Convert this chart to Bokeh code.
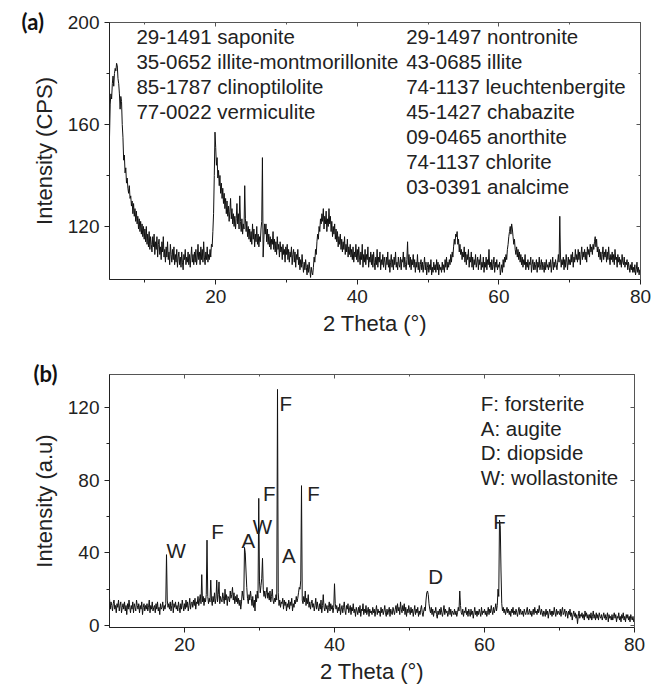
from bokeh.plotting import figure
from bokeh.layouts import column
from bokeh.models import FixedTicker, LinearAxis, Range1d, CustomJSTickFormatter, ColumnDataSource, Title
from bokeh.core.properties import value
from bokeh.embed import file_html
from bokeh.resources import INLINE

FONT = "Liberation Sans"

# ---------------- panel (a) data: 2-theta from 5.0, step 0.1 (one row per degree) ----------------
a_start, a_step = 5.0, 0.1
a_intensity = [
    155, 168, 172, 170, 176, 179, 175, 180, 182, 181,   # 5
    184, 183, 178, 176, 172, 166, 171, 169, 160, 155,   # 6
    146, 148, 141, 143, 137, 139, 135, 133, 136, 131,   # 7
    132, 128, 130, 125, 129, 124, 127, 122, 126, 121,   # 8
    124, 119, 123, 118, 122, 117, 121, 116, 120, 115,   # 9
    119, 114, 120, 113, 117, 112, 118, 111, 116, 113,   # 10
    110, 116, 112, 117, 109, 114, 111, 116, 108, 113,   # 11
    115, 109, 112, 107, 114, 110, 116, 108, 111, 106,   # 12
    112, 108, 114, 107, 110, 105, 113, 109, 106, 111,   # 13
    107, 112, 105, 109, 106, 111, 104, 108, 110, 105,   # 14
    108, 104, 110, 106, 103, 109, 107, 111, 105, 108,   # 15
    106, 110, 105, 109, 104, 108, 112, 106, 109, 105,   # 16
    110, 106, 111, 105, 108, 113, 107, 110, 105, 112,   # 17
    107, 111, 106, 114, 108, 105, 110, 107, 112, 106,   # 18
    109, 107, 111, 108, 113, 112, 118, 125, 140, 157,   # 19
    151, 144, 147, 139, 142, 136, 140, 133, 137, 131,   # 20
    135, 129, 133, 127, 131, 125, 130, 124, 128, 122,   # 21
    126, 131, 123, 127, 121, 125, 120, 124, 119, 123,   # 22
    129, 121, 125, 119, 132, 122, 118, 123, 117, 121,   # 23
    119, 136, 123, 118, 122, 116, 120, 115, 119, 114,   # 24
    118, 113, 121, 115, 119, 112, 117, 114, 120, 113,   # 25
    117, 112, 116, 114, 119, 122, 147, 108, 115, 121,   # 26
    117, 121, 114, 119, 113, 117, 112, 116, 111, 115,   # 27
    113, 118, 111, 115, 110, 114, 109, 116, 111, 113,   # 28
    108, 114, 110, 112, 107, 113, 109, 111, 106, 112,   # 29
    109, 113, 107, 111, 106, 110, 108, 112, 105, 109,   # 30
    111, 106, 110, 104, 109, 107, 111, 105, 108, 103,   # 31
    107, 104, 109, 105, 102, 106, 103, 107, 104, 101,   # 32
    105, 102, 106, 103, 100, 104, 102, 101, 104, 108,   # 33
    106, 111, 109, 114, 117, 115, 120, 118, 123, 121,   # 34
    125, 122, 127, 119, 124, 121, 126, 118, 123, 120,   # 35
    127, 121, 124, 118, 122, 116, 120, 117, 121, 115,   # 36
    119, 114, 118, 112, 116, 113, 117, 111, 115, 110,   # 37
    114, 111, 116, 109, 113, 110, 115, 108, 112, 109,   # 38
    113, 108, 111, 107, 112, 106, 110, 108, 113, 107,   # 39
    111, 106, 112, 108, 105, 110, 107, 113, 104, 109,   # 40
    106, 111, 105, 109, 107, 112, 104, 108, 106, 110,   # 41
    105, 109, 104, 110, 106, 103, 108, 105, 111, 104,   # 42
    108, 106, 110, 103, 107, 105, 109, 104, 108, 106,   # 43
    103, 108, 105, 110, 104, 107, 102, 106, 109, 104,   # 44
    107, 103, 108, 105, 110, 104, 106, 103, 108, 105,   # 45
    104, 108, 103, 107, 106, 110, 104, 108, 105, 103,   # 46
    107, 114, 105, 109, 104, 108, 103, 107, 105, 109,   # 47
    104, 107, 102, 106, 104, 109, 103, 106, 102, 105,   # 48
    107, 103, 106, 102, 105, 108, 103, 106, 101, 104,   # 49
    106, 102, 105, 103, 107, 101, 104, 102, 106, 103,   # 50
    105, 102, 107, 103, 106, 101, 105, 103, 104, 102,   # 51
    106, 103, 105, 102, 107, 104, 108, 103, 106, 104,   # 52
    107, 105, 109, 106, 110, 108, 112, 115, 113, 117,   # 53
    116, 118, 113, 115, 110, 113, 109, 111, 107, 110,   # 54
    108, 112, 106, 110, 105, 109, 107, 111, 104, 108,   # 55
    106, 110, 104, 108, 103, 107, 105, 109, 104, 106,   # 56
    108, 103, 107, 105, 109, 103, 106, 104, 108, 102,   # 57
    106, 104, 108, 103, 107, 105, 111, 104, 106, 103,   # 58
    107, 103, 105, 108, 102, 106, 104, 107, 103, 105,   # 59
    104, 106, 101, 103, 105, 102, 107, 104, 108, 106,   # 60
    109, 107, 111, 113, 116, 118, 120, 117, 121, 119,   # 61
    116, 113, 115, 111, 109, 112, 108, 111, 107, 110,   # 62
    106, 109, 105, 108, 104, 107, 105, 109, 103, 106,   # 63
    104, 107, 103, 106, 105, 108, 102, 105, 107, 103,   # 64
    106, 103, 105, 107, 102, 106, 104, 108, 103, 105,   # 65
    107, 103, 106, 104, 102, 106, 103, 107, 104, 105,   # 66
    103, 106, 104, 107, 102, 105, 108, 103, 106, 104,   # 67
    107, 105, 103, 106, 109, 106, 124, 108, 104, 107,   # 68
    105, 108, 103, 107, 104, 109, 106, 103, 108, 105,   # 69
    107, 105, 109, 106, 110, 104, 108, 106, 111, 107,   # 70
    109, 106, 111, 107, 110, 105, 109, 112, 107, 110,   # 71
    108, 111, 107, 110, 106, 112, 109, 111, 108, 113,   # 72
    110, 112, 109, 113, 111, 114, 116, 112, 115, 110,   # 73
    112, 108, 111, 107, 110, 106, 109, 112, 107, 110,   # 74
    108, 111, 106, 110, 107, 112, 108, 105, 109, 107,   # 75
    110, 106, 109, 105, 111, 107, 108, 104, 109, 106,   # 76
    108, 105, 107, 104, 109, 106, 105, 108, 104, 106,   # 77
    105, 107, 103, 106, 104, 102, 105, 103, 106, 102,   # 78
    104, 102, 105, 101, 103, 106, 102, 104, 101, 103,   # 79
    102,                                                # 80
]
a_theta = [round(a_start + i * a_step, 2) for i in range(len(a_intensity))]

a_left_labels = ["29-1491 saponite", "35-0652 illite-montmorillonite",
                 "85-1787 clinoptilolite", "77-0022 vermiculite"]
a_right_labels = ["29-1497 nontronite", "43-0685 illite", "74-1137 leuchtenbergite",
                  "45-1427 chabazite", "09-0465 anorthite", "74-1137 chlorite",
                  "03-0391 analcime"]

# ---------------- panel (b) data: 2-theta from 10.0, step 0.1 (one row per degree) ----------------
b_start, b_step = 10.0, 0.1
b_intensity = [
    15, 9, 13, 11, 8, 12, 14, 9, 11, 7,      # 10
    12, 10, 14, 8, 11, 13, 7, 10, 12, 9,     # 11
    13, 8, 11, 6, 12, 9, 14, 10, 7, 11,      # 12
    9, 13, 7, 12, 10, 8, 14, 11, 9, 12,      # 13
    7, 11, 9, 13, 6, 10, 12, 8, 11, 9,       # 14
    12, 8, 10, 14, 7, 11, 9, 13, 8, 10,      # 15
    11, 7, 12, 9, 13, 8, 10, 6, 12, 9,       # 16
    10, 13, 8, 11, 9, 12, 39, 14, 10, 12,    # 17
    9, 13, 8, 11, 14, 7, 12, 10, 13, 9,      # 18
    11, 8, 13, 10, 7, 12, 9, 14, 11, 8,      # 19
    12, 9, 14, 10, 13, 8, 11, 15, 9, 12,     # 20
    13, 10, 14, 11, 15, 9, 13, 12, 16, 11,   # 21
    14, 17, 12, 28, 13, 16, 11, 15, 13, 17,  # 22
    47, 16, 12, 15, 13, 25, 14, 11, 16, 13,  # 23
    18, 12, 15, 25, 13, 17, 24, 12, 16, 14,  # 24
    13, 18, 15, 12, 20, 14, 17, 11, 16, 15,  # 25
    13, 19, 15, 17, 21, 14, 18, 12, 16, 13,  # 26
    17, 12, 15, 11, 14, 9, 13, 19, 16, 14,   # 27
    43, 40, 30, 21, 15, 12, 17, 14, 19, 15,  # 28
    11, 16, 10, 14, 8, 17, 13, 19, 15, 70,   # 29
    24, 18, 22, 26, 37, 20, 16, 19, 15, 18,  # 30
    21, 15, 18, 14, 19, 13, 16, 20, 14, 12,  # 31
    15, 13, 17, 14, 130, 18, 11, 14, 10, 13, # 32
    12, 15, 9, 14, 11, 13, 8, 12, 10, 14,    # 33
    9, 13, 11, 15, 8, 12, 10, 14, 12, 16,    # 34
    13, 15, 18, 21, 20, 25, 77, 14, 12, 16,  # 35
    13, 19, 11, 15, 12, 17, 10, 13, 9, 12,   # 36
    14, 10, 12, 8, 11, 15, 9, 13, 10, 8,     # 37
    12, 9, 14, 7, 11, 17, 10, 8, 12, 9,      # 38
    11, 7, 10, 13, 8, 12, 9, 11, 7, 10,      # 39
    23, 12, 9, 11, 7, 10, 8, 12, 6, 9,       # 40
    11, 7, 10, 13, 8, 6, 11, 9, 12, 7,       # 41
    9, 11, 6, 10, 8, 12, 7, 9, 5, 10,        # 42
    8, 6, 10, 7, 11, 5, 9, 8, 12, 6,         # 43
    9, 7, 11, 6, 8, 10, 5, 9, 7, 8,          # 44
    6, 10, 7, 9, 5, 8, 11, 6, 9, 7,          # 45
    8, 5, 10, 7, 9, 6, 8, 11, 7, 5,          # 46
    9, 6, 8, 10, 5, 9, 7, 6, 10, 8,          # 47
    6, 9, 11, 7, 12, 8, 10, 6, 13, 9,        # 48
    7, 11, 8, 12, 6, 10, 5, 9, 7, 11,        # 49
    8, 6, 10, 7, 9, 5, 8, 11, 6, 9,          # 50
    7, 10, 5, 8, 6, 9, 11, 7, 5, 8,          # 51
    10, 8, 14, 18, 19, 17, 12, 9, 7, 10,     # 52
    6, 9, 5, 8, 7, 10, 6, 4, 8, 6,           # 53
    9, 6, 10, 7, 5, 8, 11, 6, 9, 7,          # 54
    8, 5, 7, 10, 6, 9, 5, 8, 7, 6,           # 55
    9, 6, 8, 5, 7, 10, 8, 19, 11, 7,         # 56
    6, 9, 5, 8, 7, 10, 6, 8, 5, 9,           # 57
    7, 5, 9, 6, 8, 4, 7, 10, 6, 8,           # 58
    5, 8, 6, 9, 7, 5, 10, 6, 8, 7,           # 59
    9, 6, 8, 5, 7, 10, 6, 9, 7, 11,          # 60
    8, 6, 10, 7, 9, 12, 8, 11, 20, 16,       # 61
    58, 55, 30, 12, 8, 10, 7, 9, 6, 8,       # 62
    10, 7, 9, 6, 8, 5, 9, 7, 10, 6,          # 63
    8, 6, 9, 7, 5, 8, 10, 6, 9, 7,           # 64
    6, 8, 5, 9, 7, 6, 8, 10, 6, 7,           # 65
    9, 6, 8, 5, 7, 9, 6, 10, 7, 8,           # 66
    6, 9, 7, 11, 8, 6, 9, 7, 5, 8,           # 67
    7, 5, 9, 6, 8, 4, 7, 9, 6, 8,            # 68
    5, 8, 6, 10, 7, 5, 9, 6, 8, 7,           # 69
    6, 9, 5, 8, 10, 6, 7, 9, 5, 8,           # 70
    7, 4, 8, 6, 9, 5, 7, 3, 6, 8,            # 71
    5, 7, 4, 6, 1, 5, 8, 4, 6, 5,            # 72
    7, 4, 6, 3, 8, 5, 7, 4, 6, 3,            # 73
    6, 4, 7, 3, 5, 8, 4, 6, 3, 7,            # 74
    4, 6, 3, 7, 5, 4, 6, 3, 5, 7,            # 75
    4, 6, 3, 5, 7, 2, 6, 4, 5, 3,            # 76
    6, 3, 5, 7, 4, 6, 2, 5, 4, 7,            # 77
    3, 5, 2, 6, 4, 7, 3, 5, 2, 6,            # 78
    4, 6, 3, 5, 2, 6, 4, 3, 5, 2,            # 79
    3,                                       # 80
]
b_theta = [round(b_start + i * b_step, 2) for i in range(len(b_intensity))]

b_peak_labels = ["W", "F", "A", "W", "F", "F", "A", "F", "D", "F"]
b_peak_x = [18.9, 24.4, 28.5, 30.4, 31.3, 33.5, 33.9, 37.2, 53.5, 62.0]
b_peak_y = [41.5, 51.5, 47.0, 54.5, 72.7, 122.2, 38.7, 72.7, 27.0, 57.5]
b_legend = ["F: forsterite", "A: augite", "D: diopside", "W: wollastonite"]


def style(p, xt, xm, yt, ym, xlabel, ylabel):
    p.xgrid.visible = False
    p.ygrid.visible = False
    p.outline_line_color = "#555555"
    p.outline_line_width = 1
    for ax, t, m in ((p.xaxis[0], xt, xm), (p.yaxis[0], yt, ym)):
        ax.ticker = FixedTicker(ticks=t, minor_ticks=m)
        ax.axis_line_color = "#222222"
        ax.major_tick_line_color = "#222222"
        ax.minor_tick_line_color = "#222222"
        ax.major_tick_in = 0
        ax.major_tick_out = 5
        ax.minor_tick_in = 0
        ax.minor_tick_out = 3
        ax.major_label_text_font = FONT
        ax.major_label_text_font_size = "19px"
        ax.major_label_text_color = "#222222"
        ax.axis_label_text_font = FONT
        ax.axis_label_text_font_size = "22px"
        ax.axis_label_text_font_style = "normal"
        ax.axis_label_text_color = "#222222"
    p.xaxis[0].major_label_standoff = 5
    p.xaxis[0].axis_label_standoff = 5
    p.yaxis[0].major_label_standoff = 5
    p.yaxis[0].axis_label_standoff = 8
    p.xaxis[0].axis_label = xlabel
    p.yaxis[0].axis_label = ylabel
    blank = CustomJSTickFormatter(code="return ''")
    top = LinearAxis(ticker=FixedTicker(ticks=xt, minor_ticks=xm), formatter=blank,
                     major_tick_in=4, major_tick_out=0, minor_tick_in=2, minor_tick_out=0,
                     major_label_standoff=0, axis_line_color="#555555",
                     major_tick_line_color="#555555", minor_tick_line_color="#555555")
    right = LinearAxis(ticker=FixedTicker(ticks=yt, minor_ticks=ym), formatter=blank,
                       major_tick_in=4, major_tick_out=0, minor_tick_in=2, minor_tick_out=0,
                       major_label_standoff=0, axis_line_color="#555555",
                       major_tick_line_color="#555555", minor_tick_line_color="#555555")
    p.add_layout(top, "above")
    p.add_layout(right, "right")


def panel_title(text, offset):
    return Title(text=text, align="left", offset=offset, standoff=-24,
                 text_font="Lato", text_font_style="bold", text_font_size="22px",
                 text_color="#111111")


# ---------------- figure (a) ----------------
p1 = figure(frame_width=531, frame_height=257, min_border_left=106, min_border_right=14,
            min_border_top=22, min_border_bottom=59,
            x_range=Range1d(5, 80), y_range=Range1d(99.2, 200),
            output_backend="svg", toolbar_location=None, background_fill_color="white")
p1.title = panel_title("(a)", -88)
p1.line(a_theta, a_intensity, line_color="#111111", line_width=1)
style(p1, [20, 40, 60, 80], [10, 30, 50, 70], [120, 160, 200], [140, 180],
      "2 Theta (°)", "Intensity (CPS)")

step_a = 9.8
src_al = ColumnDataSource(dict(x=[8.8] * len(a_left_labels),
                               y=[194.5 - i * step_a for i in range(len(a_left_labels))],
                               t=a_left_labels))
src_ar = ColumnDataSource(dict(x=[46.9] * len(a_right_labels),
                               y=[194.5 - i * step_a for i in range(len(a_right_labels))],
                               t=a_right_labels))
for s in (src_al, src_ar):
    p1.text(x="x", y="y", text="t", source=s, text_font=value(FONT), text_font_size="20.5px",
            text_align="left", text_baseline="middle", text_color="#222222")

# ---------------- figure (b) ----------------
p2 = figure(frame_width=525, frame_height=253, min_border_left=109, min_border_right=16,
            min_border_top=36, min_border_bottom=58,
            x_range=Range1d(10, 80), y_range=Range1d(-1.1, 138.2),
            output_backend="svg", toolbar_location=None, background_fill_color="white")
p2.title = panel_title("(b)", -76)
p2.line(b_theta, b_intensity, line_color="#111111", line_width=1)
style(p2, [20, 40, 60, 80], [30, 50, 70], [0, 40, 80, 120], [20, 60, 100],
      "2 Theta (°)", "Intensity (a.u)")

src_bp = ColumnDataSource(dict(x=b_peak_x, y=b_peak_y, t=b_peak_labels))
p2.text(x="x", y="y", text="t", source=src_bp, text_font=value(FONT), text_font_size="20.5px",
        text_align="center", text_baseline="middle", text_color="#222222")
step_b = 13.6
src_bl = ColumnDataSource(dict(x=[59.5] * len(b_legend),
                               y=[122.2 - i * step_b for i in range(len(b_legend))],
                               t=b_legend))
p2.text(x="x", y="y", text="t", source=src_bl, text_font=value(FONT), text_font_size="20.5px",
        text_align="left", text_baseline="middle", text_color="#222222")

layout = column(p1, p2, spacing=0)
open("out.html", "w").write(file_html(layout, INLINE))
